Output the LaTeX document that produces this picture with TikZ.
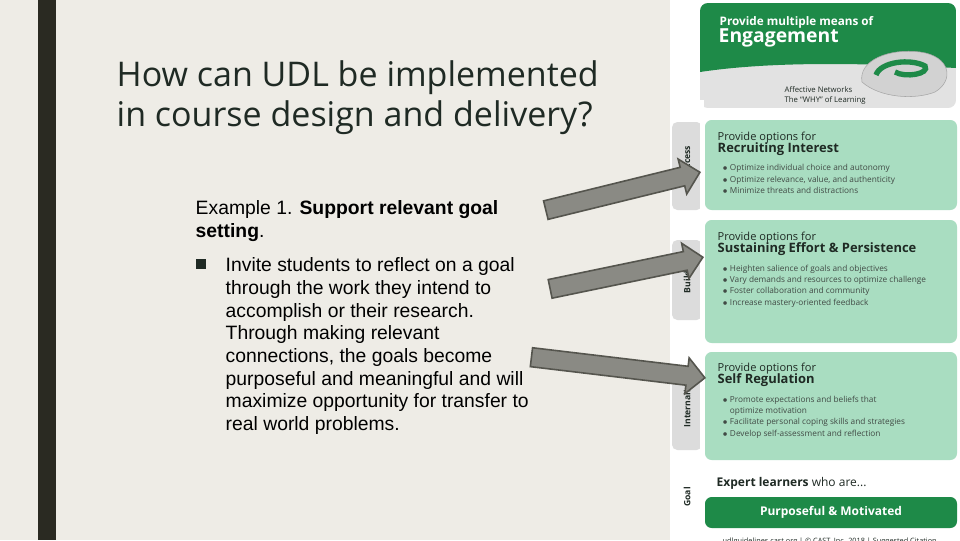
\documentclass[tikz,border=0pt]{standalone}
\usepackage{fontspec}
\setmainfont{Liberation Sans}
\newfontfamily\osans{Open Sans}
\usetikzlibrary{shapes.arrows}
\definecolor{bg}{HTML}{EEECE6}
\definecolor{darkbar}{HTML}{2A2A22}
\definecolor{udlgreen}{HTML}{1E8A48}
\definecolor{lightgreen}{HTML}{A9DDC1}
\definecolor{tabgrey}{HTML}{DCDCDC}
\definecolor{hdrgrey}{HTML}{E2E2E2}
\definecolor{arrowgrey}{HTML}{8A8A84}
\definecolor{darktext}{HTML}{1F2A24}
\tikzset{
  blockarrow/.style={single arrow, draw=darkbar!80, fill=arrowgrey, line width=1.2pt,
    minimum width=27pt, single arrow head extend=5pt, inner sep=5pt, anchor=tip},
  greenbox/.style={fill=lightgreen, rounded corners=5pt},
  tab/.style={fill=tabgrey, rounded corners=4pt},
  tablabel/.style={rotate=90, font=\osans\bfseries\fontsize{6.5}{7}\selectfont, text=darktext},
  boxhead/.style={anchor=north west, align=left, font=\osans\fontsize{8.3}{9.3}\selectfont, text=darktext},
  boxlist/.style={anchor=north west, align=left, font=\osans\fontsize{6.2}{8.6}\selectfont, text=darktext!85},
  body/.style={anchor=north west, align=left, font=\fontsize{14.5}{17}\selectfont, text=black}
}
\begin{document}
\begin{tikzpicture}[x=0.75pt,y=-0.75pt]
\useasboundingbox (0,0) rectangle (960,540);
\fill[bg] (0,0) rectangle (960,540);
\fill[darkbar] (38,0) rectangle (56,540);
% right panel
\fill[white] (670,0) rectangle (960,540);
\begin{scope}
\clip (700,3) [rounded corners=6pt] rectangle (956,108);
\fill[hdrgrey] (700,3) rectangle (956,108);
\fill[udlgreen] (700,3) -- (956,3) -- (956,68) .. controls (880,64) and (780,60) .. (700,72) -- cycle;
\end{scope}
\node[anchor=west, text=white, font=\osans\bfseries\fontsize{8.8}{10}\selectfont] (hdr1) at (715,22) {Provide multiple means of};
\node[anchor=west, text=white, font=\osans\bfseries\fontsize{14.5}{16}\selectfont] (hdr2) at (714,38) {Engagement};
% brain
\fill[gray!35, draw=gray!70] (862,82) .. controls (858,60) and (890,48) .. (920,52) .. controls (950,56) and (955,80) .. (935,92) .. controls (915,100) and (880,98) .. (862,82) -- cycle;
\draw[udlgreen, line width=4pt] (876,75) .. controls (880,62) and (910,58) .. (925,66) .. controls (930,74) and (905,78) .. (895,72);
\node[anchor=north west, align=left, font=\osans\fontsize{5.8}{7.5}\selectfont, text=darktext] (aff) at (780,82) {Affective Networks\\The “WHY” of Learning};
% tabs
\fill[tab] (672,122) rectangle (702,210);
\fill[tab] (672,240) rectangle (702,320);
\fill[tab] (672,368) rectangle (702,450);
\node[tablabel] (t1) at (687,160) {Access};
\node[tablabel] (t2) at (687,282) {Build};
\node[tablabel] (t3) at (687,404) {Internalize};
\node[tablabel] (t4) at (687,497) {Goal};
\fill[white] (700,100) rectangle (704,540);
% green boxes
\fill[greenbox] (705,120) rectangle (957,210);
\fill[greenbox] (705,220) rectangle (957,343);
\fill[greenbox] (705,352) rectangle (957,460);
\node[boxhead] (b1) at (713,127) {Provide options for\\[-1pt]{\bfseries\fontsize{9.7}{11}\selectfont Recruiting Interest}};
\node[boxlist] (l1) at (718,160) {$\bullet$\ Optimize individual choice and autonomy\\$\bullet$\ Optimize relevance, value, and authenticity\\$\bullet$\ Minimize threats and distractions};
\node[boxhead] (b2) at (713,227) {Provide options for\\[-1pt]{\bfseries\fontsize{9.7}{11}\selectfont Sustaining Effort \& Persistence}};
\node[boxlist] (l2) at (718,260) {$\bullet$\ Heighten salience of goals and objectives\\$\bullet$\ Vary demands and resources to optimize challenge\\$\bullet$\ Foster collaboration and community\\$\bullet$\ Increase mastery-oriented feedback};
\node[boxhead] (b3) at (713,358) {Provide options for\\[-1pt]{\bfseries\fontsize{9.7}{11}\selectfont Self Regulation}};
\node[boxlist] (l3) at (718,391) {$\bullet$\ Promote expectations and beliefs that\\\phantom{$\bullet$\ }optimize motivation\\$\bullet$\ Facilitate personal coping skills and strategies\\$\bullet$\ Develop self-assessment and reflection};
\node[anchor=west, font=\osans\fontsize{9}{10}\selectfont, text=darktext] (exp) at (712,483) {\bfseries Expert learners\mdseries\ who are...};
\fill[udlgreen, rounded corners=5pt] (705,497) rectangle (957,528);
\node[text=white, font=\osans\bfseries\fontsize{9}{10}\selectfont] (pm) at (831,512.5) {Purposeful \& Motivated};
\begin{scope}
\clip (670,532) rectangle (960,540);
\node[anchor=west, font=\osans\fontsize{5.5}{6}\selectfont, text=darktext] (cite) at (718,542) {udlguidelines.cast.org | \textcopyright{} CAST, Inc. 2018 | Suggested Citation};
\end{scope}
% left text
\node[anchor=west, align=left, font=\osans\fontsize{25.5}{30}\selectfont, text=darktext] (title) at (112,98) {How can UDL be implemented\\in course design and delivery?};
\node[body] (ex) at (191,196) {Example 1. \textbf{Support relevant goal}\\\textbf{setting}.};
\node[fill=darktext, minimum size=7pt, inner sep=0pt] (bul) at (201,264) {};
\node[body] (pt) at (221,253) {Invite students to reflect on a goal\\through the work they intend to\\accomplish or their research.\\Through making relevant\\connections, the goals become\\purposeful and meaningful and will\\maximize opportunity for transfer to\\real world problems.};
% arrows
\node[blockarrow, minimum height=119pt, rotate=13.8] (a1) at (701,172) {};
\node[blockarrow, minimum height=117pt, rotate=11.7] (a2) at (704,257) {};
\node[blockarrow, minimum height=131pt, rotate=-6.8] (a3) at (706,378) {};
\end{tikzpicture}
\end{document}
